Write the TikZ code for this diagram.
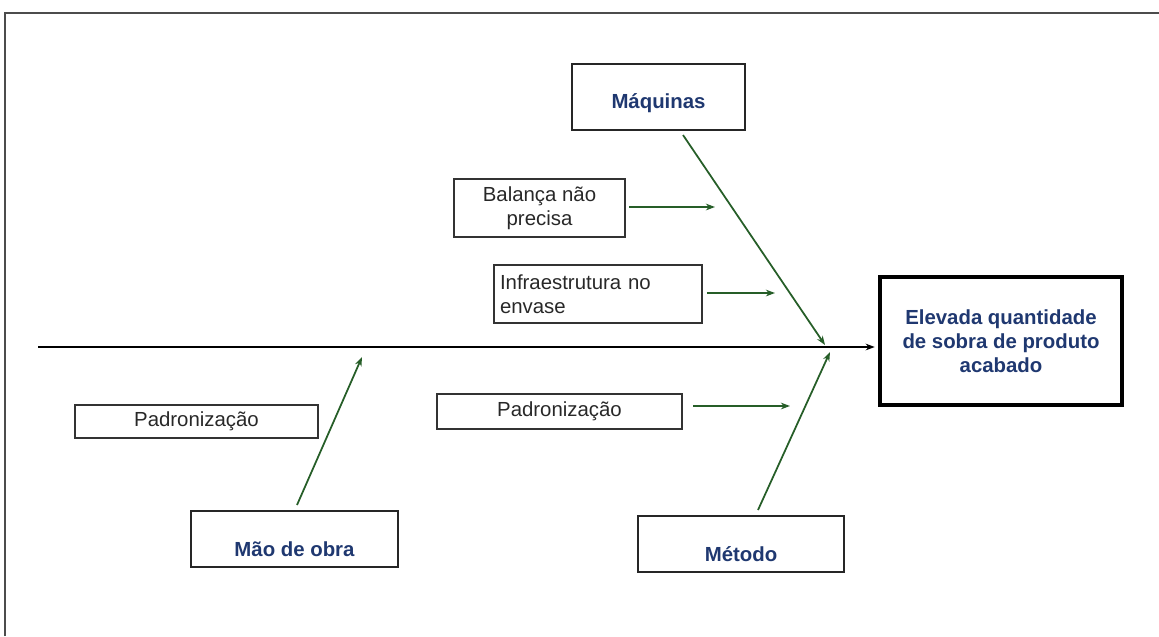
\documentclass[tikz,border=0pt]{standalone}
\usepackage{fontspec}
\setmainfont{Liberation Sans}
\usepackage{xcolor}
\usepackage{tikz}
\usetikzlibrary{arrows.meta,positioning}
\definecolor{titleblue}{RGB}{31,56,112}
\definecolor{bonegreen}{RGB}{38,94,40}
\definecolor{textgray}{RGB}{40,40,40}
\tikzstyle{cause} = [rectangle, draw=black!80, line width=0.9pt, text=textgray, inner sep=0pt, align=center, font=\fontsize{11.6}{13.6}\selectfont]
\tikzstyle{category} = [rectangle, draw=black!85, line width=1.2pt, text=titleblue, inner sep=0pt, text depth=0pt, font=\bfseries\fontsize{11.6}{13.6}\selectfont]
\tikzstyle{effect} = [rectangle, draw=black, line width=2pt, text=titleblue, inner sep=0pt, align=center, font=\bfseries\fontsize{11.6}{13.6}\selectfont]
\tikzstyle{arrow} = [line width=1pt, draw=bonegreen, ->, >={Stealth[length=5.2pt,width=3.8pt]}]
\tikzstyle{spine} = [line width=1pt, draw=black, ->, >={Stealth[length=5.2pt,width=3.8pt]}]

\begin{document}
\begin{tikzpicture}[x=0.02cm, y=-0.02cm]
    \useasboundingbox (0,0) rectangle (1159,636);
    % Frame
    \draw [line width=0.8pt, black!70] (5,636) -- (5,13) -- (1159,13);

    % Effect
    \node [effect, minimum width=4.84cm, minimum height=2.56cm] (effect) at (1001,341) {Elevada quantidade\\de sobra de produto\\acabado};

    % Categories
    \node [category, minimum width=3.46cm, minimum height=1.32cm, text height=13pt] (maquinas) at (658.5,97) {Máquinas};
    \node [category, minimum width=4.14cm, minimum height=1.12cm, text height=20pt] (maodeobra) at (294.5,539) {Mão de obra};
    \node [category, minimum width=4.12cm, minimum height=1.12cm, text height=19.5pt] (metodo) at (741,544) {Método};

    % Causes
    \node [cause, minimum width=3.42cm, minimum height=1.16cm] (balanca) at (539.5,208) {Balança não\\precisa};
    \node [cause, text width=3.92cm, inner xsep=0.12cm, minimum height=1.16cm, align=left] (infra) at (598,294) {Infraestrutura no\\envase};
    \node [cause, minimum width=4.86cm, minimum height=0.66cm] (padrleft) at (196.5,421.5) {Padronização};
    \node [cause, minimum width=4.9cm, minimum height=0.70cm] (padrmid) at (559.5,411.5) {Padronização};

    % Spine
    \coordinate (spinetail) at (38,347);
    \draw [spine, shorten >=2pt] (spinetail) -- (spinetail -| effect.west);

    % Bones
    \coordinate (maqtail) at (683,135);
    \coordinate (maqhead) at (825,345);
    \coordinate (mettail) at (758,510);
    \coordinate (methead) at (830,352);
    \coordinate (maotail) at (297,505);
    \coordinate (maohead) at (362,357);
    \draw [arrow] (maqtail) -- (maqhead);
    \draw [arrow] (mettail) -- (methead);
    \draw [arrow] (maotail) -- (maohead);

    % Cause arrows
    \coordinate (balancahead) at (715,207);
    \coordinate (infrahead) at (775,293);
    \coordinate (padrhead) at (790,406);
    \draw [arrow, shorten <=2pt] (balanca.east |- balancahead) -- (balancahead);
    \draw [arrow, shorten <=2.3pt] (infra.east |- infrahead) -- (infrahead);
    \draw [arrow, shorten <=6pt] (padrmid.east |- padrhead) -- (padrhead);
\end{tikzpicture}
\end{document}
